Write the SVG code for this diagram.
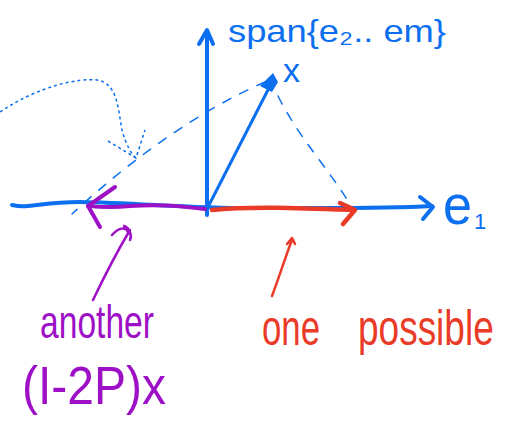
<svg xmlns="http://www.w3.org/2000/svg" width="506" height="423" viewBox="0 0 506 423">
<style>
.blue{stroke:#0b6ff0;fill:none;stroke-linecap:round;stroke-linejoin:round}
.purple{stroke:#9d10c6;fill:none;stroke-linecap:round;stroke-linejoin:round}
.red{stroke:#ea3a28;fill:none;stroke-linecap:round;stroke-linejoin:round}
.dash{stroke:#0b6ff0;fill:none;stroke-width:1.5;stroke-dasharray:9 10;stroke-linecap:round}
.dot{stroke:#0b6ff0;fill:none;stroke-width:1.5;stroke-dasharray:3 3}
text{font-family:"Liberation Sans","DejaVu Sans",sans-serif}
.tb{fill:#0b6ff0}.tp{fill:#9d10c6}.tr{fill:#ea3a28}
</style>
<rect width="506" height="423" fill="#fff"/>
<g id="axes">
<path class="blue" stroke-width="4" d="M12,205 C30,209 40,202 80,202 C140,203 200,209 260,208 C320,208 380,209 432,206"/>
<path class="blue" stroke-width="4" d="M420,197 L433,207 L423,219"/>
<path class="blue" stroke-width="4" d="M207,215 L207,32"/>
<path class="blue" stroke-width="4" d="M199,44 L207,30 L213,44"/>
</g>
<g id="labels">
<text class="tb" x="228" y="42" font-size="32" textLength="218" lengthAdjust="spacingAndGlyphs">span{e₂.. em}</text>
<text class="tb" x="283" y="82" font-size="34">x</text>
<text class="tb" x="443" y="224" font-size="56" textLength="29" lengthAdjust="spacingAndGlyphs">e</text>
<text class="tb" x="474" y="229" font-size="22">1</text>
<text class="tp" x="40" y="338" font-size="46" textLength="114" lengthAdjust="spacingAndGlyphs">another</text>
<text class="tp" x="22" y="404" font-size="54" textLength="144" lengthAdjust="spacingAndGlyphs">(I-2P)x</text>
<text class="tr" x="262" y="345" font-size="50" textLength="58" lengthAdjust="spacingAndGlyphs">one</text>
<text class="tr" transform="translate(358,345) scale(1,1.35)" font-size="37">possible</text>
</g>
<g id="connectors">
<path class="blue" stroke-width="3" d="M208,207 L272,82"/>
<path d="M260,86 L273,73 L278,82 L272,92 Z" fill="#0b6ff0"/>
<path class="dash" d="M278,96 C300,140 330,170 353,209"/>
<path class="dash" d="M265,82 C200,110 130,160 72,214"/>
<path class="dot" d="M0,112 C40,85 80,78 97,80 C118,83 118,110 122,130 C126,145 132,155 136,158"/>
<path class="dot" d="M108,141 L136,158 L145,130"/>
<path class="purple" stroke-width="4" d="M205,209 C180,206 160,204 130,206 C110,208 100,207 88,206"/>
<path class="purple" stroke-width="4" d="M115,187 L88,206 L100,227"/>
<path class="purple" stroke-width="2.5" d="M93,300 C105,275 118,250 130,230 M112,235 C118,228 126,226 128,232 M124,226 C130,228 132,236 130,240"/>
<path class="red" stroke-width="4.5" d="M212,210 C250,206 300,208 354,210"/>
<path class="red" stroke-width="4.5" d="M340,203 L355,210 L343,224"/>
<path class="red" stroke-width="2.5" d="M272,296 C280,275 286,255 292,240 M287,244 L292,238 L295,244"/>
</g>
</svg>
